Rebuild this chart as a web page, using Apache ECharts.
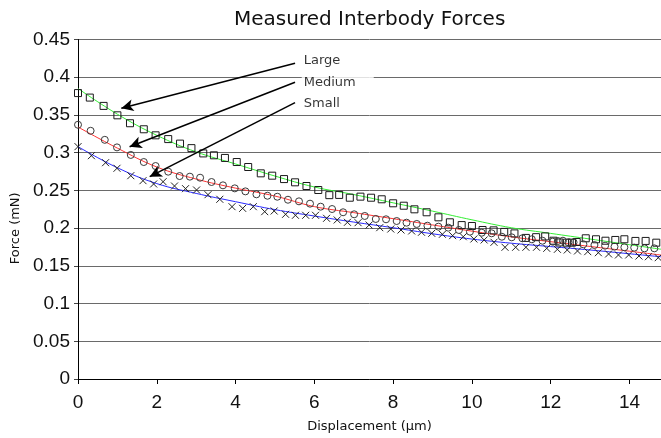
<!DOCTYPE html>
<html>
<head>
<meta charset="utf-8">
<title>Measured Interbody Forces</title>
<script src="https://cdn.jsdelivr.net/npm/echarts@6/dist/echarts.min.js"></script>
<style>
  html, body { margin: 0; padding: 0; background: #ffffff; }
  #chart { width: 661px; height: 438px; }
</style>
</head>
<body>
<div id="chart"></div>
<script>
// Measured force samples (displacement in µm, force in mN)
const largeX = [0, 0.30, 0.65, 1.0, 1.32, 1.67, 1.97, 2.29, 2.59, 2.88, 3.18, 3.45, 3.73, 4.03, 4.32, 4.64, 4.93, 5.23, 5.51, 5.80, 6.10, 6.38, 6.63, 6.90, 7.17, 7.44, 7.71, 8.0, 8.27, 8.54, 8.85, 9.15, 9.44, 9.74, 10.0, 10.27, 10.55, 10.82, 11.08, 11.37, 11.63, 11.86, 12.07, 12.22, 12.41, 12.54, 12.66, 12.89, 13.15, 13.39, 13.64, 13.87, 14.15, 14.41, 14.68];
const largeY = [0.379, 0.373, 0.362, 0.3495, 0.339, 0.331, 0.323, 0.318, 0.312, 0.306, 0.299, 0.2965, 0.293, 0.2876, 0.281, 0.2726, 0.2695, 0.265, 0.2607, 0.2558, 0.2505, 0.2437, 0.244, 0.2403, 0.2417, 0.2403, 0.2382, 0.2329, 0.2297, 0.2249, 0.221, 0.2143, 0.2077, 0.204, 0.2028, 0.1975, 0.197, 0.195, 0.193, 0.187, 0.188, 0.189, 0.1833, 0.181, 0.1807, 0.1807, 0.1816, 0.1865, 0.1852, 0.1833, 0.1843, 0.1852, 0.183, 0.183, 0.1807];

const mediumX = [0, 0.32, 0.68, 0.99, 1.34, 1.67, 1.97, 2.29, 2.58, 2.84, 3.10, 3.39, 3.68, 3.98, 4.25, 4.53, 4.81, 5.06, 5.33, 5.61, 5.89, 6.16, 6.45, 6.73, 7.01, 7.28, 7.56, 7.82, 8.09, 8.34, 8.60, 8.87, 9.15, 9.40, 9.67, 9.95, 10.25, 10.5, 10.76, 11.01, 11.28, 11.52, 11.79, 12.05, 12.18, 12.31, 12.45, 12.58, 12.83, 13.11, 13.38, 13.62, 13.87, 14.12, 14.38, 14.63];
const mediumY = [0.337, 0.329, 0.317, 0.307, 0.297, 0.2876, 0.2823, 0.2748, 0.269, 0.2682, 0.2668, 0.2611, 0.2567, 0.2527, 0.2487, 0.2448, 0.2429, 0.2416, 0.2376, 0.2355, 0.2324, 0.2284, 0.2253, 0.221, 0.2183, 0.2161, 0.2121, 0.2117, 0.2094, 0.2072, 0.2055, 0.2032, 0.2019, 0.2006, 0.1975, 0.1953, 0.1939, 0.1931, 0.1886, 0.1878, 0.1865, 0.1852, 0.1833, 0.182, 0.1829, 0.1833, 0.1812, 0.1812, 0.1786, 0.1776, 0.1767, 0.1754, 0.1746, 0.1741, 0.1732, 0.1732];

const smallX = [0, 0.34, 0.70, 0.99, 1.34, 1.65, 1.92, 2.16, 2.45, 2.73, 3.01, 3.30, 3.60, 3.91, 4.18, 4.45, 4.74, 4.98, 5.27, 5.52, 5.78, 6.03, 6.31, 6.58, 6.84, 7.11, 7.39, 7.66, 7.94, 8.20, 8.47, 8.72, 8.98, 9.25, 9.51, 9.78, 10.05, 10.31, 10.56, 10.84, 11.11, 11.37, 11.64, 11.90, 12.17, 12.42, 12.68, 12.94, 13.21, 13.47, 13.72, 13.98, 14.24, 14.48, 14.73];
const smallY = [0.308, 0.296, 0.2867, 0.2793, 0.2695, 0.2629, 0.2585, 0.2615, 0.2558, 0.2523, 0.2505, 0.2443, 0.2382, 0.2284, 0.2262, 0.2284, 0.2218, 0.2227, 0.2183, 0.217, 0.217, 0.217, 0.213, 0.2108, 0.2077, 0.2072, 0.2041, 0.2006, 0.1988, 0.1975, 0.1962, 0.1945, 0.1931, 0.1918, 0.19, 0.1886, 0.1856, 0.1843, 0.1812, 0.1746, 0.1746, 0.1746, 0.1746, 0.1732, 0.1719, 0.171, 0.1697, 0.1688, 0.1674, 0.1657, 0.1644, 0.1644, 0.163, 0.1621, 0.1608];

// Fitted trend curves, sampled at these displacements
const fitX = [0, 1, 2, 3, 4, 5, 6, 7, 8, 9, 10, 11, 12, 13, 14, 14.8];
const largeFit = [0.385, 0.351, 0.323, 0.301, 0.285, 0.269, 0.2545, 0.2445, 0.2335, 0.2225, 0.211, 0.2005, 0.193, 0.1855, 0.178, 0.172];
const mediumFit = [0.334, 0.306, 0.281, 0.265, 0.253, 0.2425, 0.2285, 0.2205, 0.2125, 0.2042, 0.196, 0.1884, 0.182, 0.1757, 0.1694, 0.1643];
const smallFit = [0.308, 0.280, 0.259, 0.246, 0.235, 0.2245, 0.216, 0.208, 0.2005, 0.1925, 0.1855, 0.180, 0.1755, 0.171, 0.166, 0.162];

// Callout labels and arrows: [labelX, labelY, tailX, tailY, headX, headY]
const calloutNames = ['Large', 'Medium', 'Small'];
const calloutPos = [
  [5.68, 0.4219, 5.51, 0.4185, 1.10, 0.3588],
  [5.68, 0.3933, 5.51, 0.3933, 1.31, 0.3079],
  [5.68, 0.3655, 5.51, 0.3663, 1.82, 0.2682]
];

const xTicks = { min: 0, max: 14.8, interval: 2 };
const yTicks = { min: 0, max: 0.45, interval: 0.05 };

const zip = (xs, ys) => xs.map((x, i) => [x, ys[i]]);
const crossPath = 'path://M0,0L10,10M10,0L0,10';

const chart = echarts.init(document.getElementById('chart'), null, { renderer: 'canvas' });

const fitLine = (data, color) => ({
  type: 'line',
  data: zip(fitX, data),
  smooth: 0.4,
  showSymbol: false,
  symbol: 'none',
  lineStyle: { color: color, width: 1 },
  z: 2,
  silent: true
});

// Hollow markers: transparent fill, thin dark outline
const markers = (data, symbol, size, color) => ({
  type: 'scatter',
  data: data,
  symbol: symbol,
  symbolSize: size,
  itemStyle: { color: 'rgba(0,0,0,0)', borderColor: color, borderWidth: 1, opacity: 1 },
  z: 3,
  silent: true
});

chart.setOption({
  animation: false,
  backgroundColor: '#ffffff',
  title: {
    text: 'Measured Interbody Forces',
    left: 229,
    top: 5,
    textStyle: { fontFamily: 'DejaVu Sans', fontSize: 20, fontWeight: 'normal', color: '#111' }
  },
  grid: { left: 78, right: 0, top: 39.5, bottom: 59, containLabel: false },
  xAxis: {
    type: 'value',
    min: xTicks.min, max: xTicks.max, interval: xTicks.interval,
    name: 'Displacement (μm)',
    nameLocation: 'middle',
    nameGap: 41,
    nameTextStyle: { fontFamily: 'DejaVu Sans', fontSize: 13, color: '#111' },
    axisLine: { show: true, lineStyle: { color: '#000', width: 1 } },
    axisTick: { show: true, length: 5, inside: false, lineStyle: { color: '#000' } },
    axisLabel: { fontFamily: 'Liberation Sans', fontSize: 19, color: '#111', margin: 14, showMaxLabel: false },
    splitLine: { show: false }
  },
  yAxis: {
    type: 'value',
    min: yTicks.min, max: yTicks.max, interval: yTicks.interval,
    name: 'Force (mN)',
    nameLocation: 'middle',
    nameGap: 55,
    nameRotate: 90,
    nameTextStyle: { fontFamily: 'DejaVu Sans', fontSize: 13, color: '#111', padding: [0, 38, 0, 0] },
    axisLine: { show: true, lineStyle: { color: '#000', width: 1 } },
    axisTick: { show: true, length: 4, lineStyle: { color: '#444' } },
    axisLabel: { fontFamily: 'Liberation Sans', fontSize: 19, color: '#111', margin: 8 },
    splitLine: { show: true, lineStyle: { color: '#6a6a6a', width: 1 } }
  },
  series: [
    fitLine(largeFit, '#33ee33'),
    fitLine(mediumFit, '#ff3333'),
    fitLine(smallFit, '#2828ff'),
    markers(zip(largeX, largeY), 'rect', 7, '#1a1a1a'),
    markers(zip(mediumX, mediumY), 'circle', 7, '#3a3a3a'),
    markers(zip(smallX, smallY), crossPath, 7, '#222'),
    {
      type: 'scatter',
      data: calloutPos.map((p, i) => ({ value: [p[0], p[1]], name: calloutNames[i] })),
      symbolSize: 0,
      silent: true,
      z: 6,
      label: {
        show: true,
        position: 'right',
        distance: 0,
        formatter: '{b}',
        fontFamily: 'DejaVu Sans',
        fontSize: 13,
        color: '#000',
        backgroundColor: '#ffffff',
        padding: [3, 18, 3, 2]
      },
      markLine: {
        silent: true,
        symbol: ['none', 'arrow'],
        symbolSize: [9, 12],
        label: { show: false },
        lineStyle: { color: '#000', width: 1.5, type: 'solid' },
        data: calloutPos.map(p => [
          { coord: [p[2], p[3]] },
          { coord: [p[4], p[5]] }
        ])
      }
    }
  ]
});
</script>
</body>
</html>
